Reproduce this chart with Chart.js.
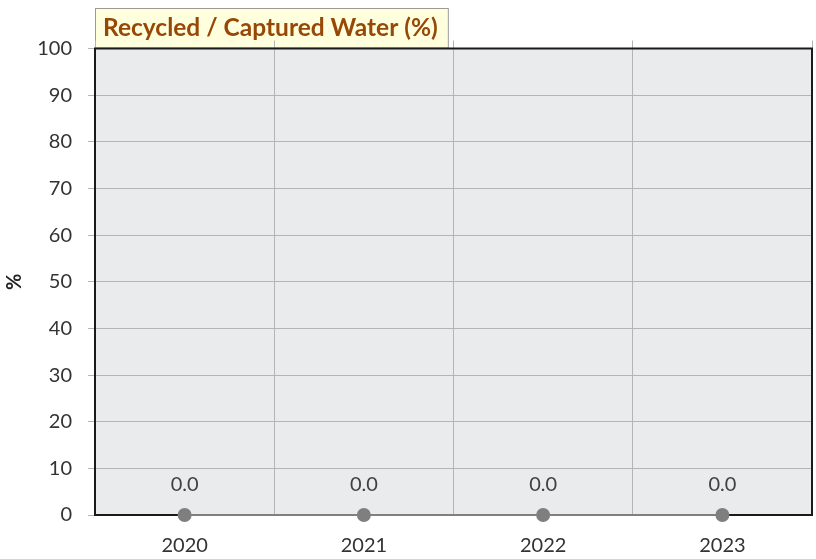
<!DOCTYPE html>
<html><head><meta charset="utf-8">
<script src="https://cdn.jsdelivr.net/npm/chart.js@4.4.1/dist/chart.umd.min.js"></script>
<style>html,body{margin:0;padding:0;background:#fff}#wrap{width:816px;height:559px}</style>
</head><body><div id="wrap"><canvas id="c" width="816" height="559"></canvas></div>
<script>
const categories = ['2020', '2021', '2022', '2023'];
const recycledWater = [0.0, 0.0, 0.0, 0.0];
const yMin = 0, yMax = 100, yStep = 10;
const chartTitle = 'Recycled / Captured Water (%)';
const yAxisTitle = '%';

const FONT = 'Lato, "Open Sans", sans-serif';
const gridColor = '#b4b4b4';

const plotDecor = {
  id: 'plotDecor',
  afterLayout(chart) {
    const t = chart.titleBlock;
    if (t) { t.left += 8; t.right += 8; }
  },
  beforeDraw(chart) {
    const { ctx, chartArea: a } = chart;
    ctx.save();
    ctx.fillStyle = '#EAEBED';
    ctx.fillRect(a.left, a.top, a.right - a.left, a.bottom - a.top);
    const tf = chart.options.plugins.title.font;
    ctx.font = `${tf.weight} ${tf.size}px ${tf.family}`;
    const w = ctx.measureText(chartTitle).width;
    ctx.fillStyle = '#FFFFDD';
    ctx.fillRect(a.left, 8, w + 18, a.top - 9);
    ctx.strokeStyle = '#9a9a9a';
    ctx.lineWidth = 1;
    ctx.strokeRect(a.left + 0.5, 8.5, w + 18, a.top - 9);
    ctx.restore();
  },
  beforeDatasetsDraw(chart) {
    const { ctx, chartArea: a } = chart;
    ctx.save();
    ctx.strokeStyle = '#1a1a1a';
    ctx.lineWidth = 2;
    ctx.strokeRect(a.left, a.top, a.right - a.left, a.bottom - a.top);
    ctx.restore();
  },
  afterDatasetsDraw(chart) {
    const { ctx } = chart;
    ctx.save();
    ctx.font = `20px ${FONT}`;
    ctx.fillStyle = '#404040';
    ctx.textAlign = 'center';
    ctx.textBaseline = 'middle';
    chart.data.datasets.forEach((ds, i) => {
      chart.getDatasetMeta(i).data.forEach((pt, j) => {
        ctx.fillText(ds.data[j].toFixed(1), pt.x, pt.y - 30);
      });
    });
    ctx.restore();
  }
};

function noSidePad(scale) { scale.paddingLeft = 0; scale.paddingRight = 0; }

new Chart(document.getElementById('c'), {
  type: 'line',
  data: {
    labels: categories,
    datasets: [{
      label: 'Recycled / Captured Water',
      data: recycledWater,
      borderColor: '#808080',
      backgroundColor: '#808080',
      borderWidth: 2,
      pointRadius: 6,
      pointHoverRadius: 6,
      pointBackgroundColor: '#7f7f7f',
      pointBorderColor: '#7f7f7f',
      clip: false
    }]
  },
  options: {
    responsive: false,
    animation: false,
    layout: { autoPadding: false, padding: { left: 0, right: 4, top: 0, bottom: 0 } },
    plugins: {
      legend: { display: false },
      tooltip: { enabled: false },
      title: {
        display: true,
        text: chartTitle,
        align: 'start',
        fullSize: false,
        color: '#974806',
        font: { family: FONT, size: 24.5, weight: 'bold', lineHeight: 1.0 },
        padding: { top: 16, bottom: 0 }
      }
    },
    scales: {
      x: {
        type: 'category',
        position: 'bottom',
        offset: true,
        grid: { offset: true, color: gridColor, drawTicks: false },
        border: { display: false },
        ticks: { color: '#333', padding: 19, font: { family: FONT, size: 20 } },
        afterFit(scale) { scale.height = 44; noSidePad(scale); }
      },
      xTop: {
        type: 'category',
        position: 'top',
        labels: categories,
        offset: true,
        grid: { offset: true, color: gridColor, drawOnChartArea: false, tickLength: 8 },
        border: { display: false },
        ticks: { display: false },
        afterFit(scale) { noSidePad(scale); }
      },
      y: {
        min: yMin,
        max: yMax,
        grid: { color: gridColor, tickLength: 7 },
        border: { display: false },
        ticks: { stepSize: yStep, color: '#333', padding: 16, font: { family: FONT, size: 20 } },
        title: {
          display: true,
          text: yAxisTitle,
          color: '#222',
          font: { family: FONT, size: 20, weight: 'bold' },
          padding: { top: 3, bottom: 0 }
        },
        afterFit(scale) { scale.width = 95; }
      }
    }
  },
  plugins: [plotDecor]
});
</script>
</body></html>
